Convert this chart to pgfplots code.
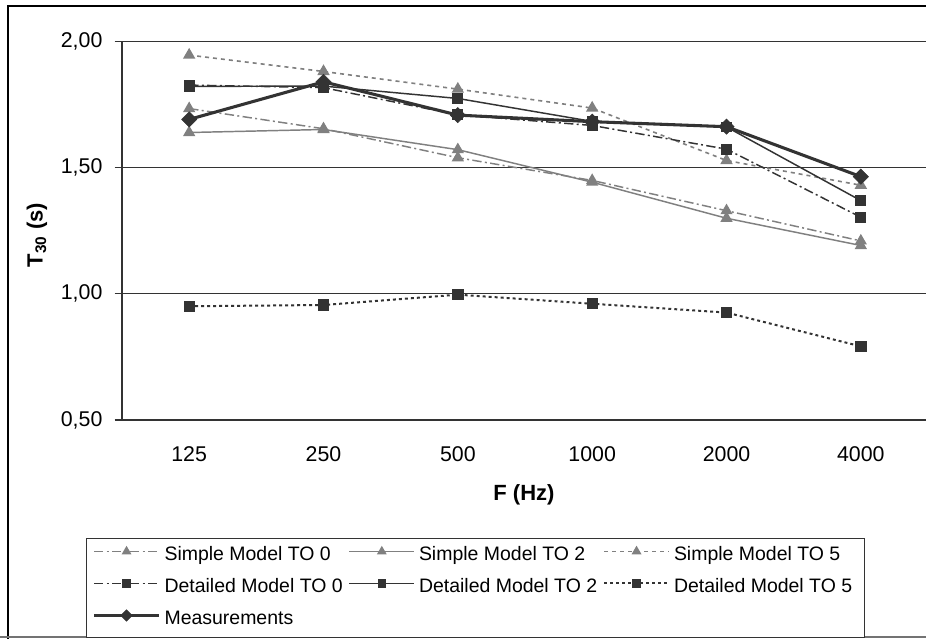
\documentclass[border=0pt]{standalone}
\usepackage{pgfplots}
\pgfplotsset{compat=1.18}
\usepackage{fontspec}
\setmainfont{Liberation Sans}
\usetikzlibrary{plotmarks}
\definecolor{sgray}{HTML}{808080}
\definecolor{dgray}{HTML}{333333}
\begin{document}
\begin{tikzpicture}
\useasboundingbox (0,0) rectangle (694.5pt,479.25pt);
\fill[white] (0,0) rectangle (694.5pt,479.25pt);
% outer frame
\draw[black, line width=1.2pt] (6pt,-5pt) -- (6pt,474.75pt) -- (700pt,474.75pt);
\draw[black!55, line width=1.4pt] (0pt,1.5pt) -- (700pt,1.5pt);
\begin{axis}[
  at={(91.5pt,164.25pt)}, anchor=south west,
  scale only axis, width=603pt, height=283.7pt,
  xmin=-0.5, xmax=5.485, ymin=0.5, ymax=2.0,
  axis lines=left, axis line style={-, draw=black!80, line width=0.8pt},
  xtick={0,1,2,3,4,5},
  xticklabels={125,250,500,1000,2000,4000},
  major x tick style={draw=none},
  extra x ticks={-0.5,0.5,1.5,2.5,3.5,4.5},
  extra x tick labels={},
  extra x tick style={major tick length=5.5pt, tick align=outside, tick style={draw=black!80, line width=0.8pt}},
  ytick={0.5,1,1.5,2},
  ymajorgrids, grid style={draw=black!80, line width=0.75pt},
  tick align=outside, major tick length=5.5pt,
  ytick style={draw=black!80, line width=0.8pt},
  /pgf/number format/.cd, fixed, fixed zerofill, precision=2, use comma, assume math mode=true,
  /pgfplots/.cd,
  tick label style={font=\fontsize{16}{18}\selectfont},
  xticklabel style={anchor=center, yshift=-20pt},
  yticklabel style={anchor=east, inner sep=0pt, xshift=-9pt},
  xlabel={\bfseries F (Hz)},
  ylabel={\bfseries T\textsubscript{30} (s)},
  label style={font=\fontsize{16.5}{18}\selectfont},
  xlabel style={at={(axis description cs:0.5,-0.198)}, anchor=center},
  ylabel style={at={(axis description cs:-0.1057,0.489)}, anchor=center},
  legend columns=3,
  legend style={at={(axis description cs:-0.0448,-0.312)}, anchor=north west,
    draw=black!80, line width=0.75pt, inner xsep=4.5pt, inner ysep=4pt,
    font=\fontsize{14.6}{16}\selectfont, row sep=5.75pt,
    nodes={inner sep=0pt, text height=12.5pt, text depth=5.75pt},
    /tikz/every odd column/.append style={column sep=3pt}},
  legend cell align=left,
  legend image code/.code={\draw[#1, mark repeat=2, mark phase=2, every mark/.append style={scale=0.75}] plot coordinates {(0pt,3.4pt) (24.4pt,3.4pt) (48.75pt,3.4pt)};},
]
\addplot[sgray, line width=1.1pt, dash pattern=on 7pt off 2.5pt on 1.5pt off 2.5pt, mark=triangle*, mark size=4.2pt, mark options={solid, fill=sgray, draw=sgray}]
  coordinates {(0,1.735) (1,1.655) (2,1.540) (3,1.450) (4,1.330) (5,1.210)};
\addlegendentry{\makebox[138pt][l]{Simple Model TO 0}}
\addplot[sgray, line width=1.1pt, mark=triangle*, mark size=4.2pt, mark options={solid, fill=sgray, draw=sgray}]
  coordinates {(0,1.640) (1,1.652) (2,1.572) (3,1.443) (4,1.300) (5,1.192)};
\addlegendentry{\makebox[138pt][l]{Simple Model TO 2}}
\addplot[sgray, line width=1.2pt, dash pattern=on 3pt off 3pt, mark=triangle*, mark size=4.2pt, mark options={solid, fill=sgray, draw=sgray}]
  coordinates {(0,1.947) (1,1.882) (2,1.812) (3,1.737) (4,1.529) (5,1.431)};
\addlegendentry{\makebox[138pt][l]{Simple Model TO 5}}
\addplot[dgray, line width=1.1pt, dash pattern=on 7pt off 2.5pt on 1.5pt off 2.5pt, mark=square*, mark size=3.5pt, mark options={solid, fill=dgray, draw=dgray}]
  coordinates {(0,1.828) (1,1.818) (2,1.710) (3,1.668) (4,1.574) (5,1.304)};
\addlegendentry{\makebox[138pt][l]{Detailed Model TO 0}}
\addplot[dgray, line width=1.1pt, mark=square*, mark size=3.5pt, mark options={solid, fill=dgray, draw=dgray}]
  coordinates {(0,1.823) (1,1.824) (2,1.775) (3,1.684) (4,1.662) (5,1.370)};
\addlegendentry{\makebox[138pt][l]{Detailed Model TO 2}}
\addplot[dgray, line width=1.5pt, dash pattern=on 2.2pt off 2.3pt, mark=square*, mark size=3.5pt, mark options={solid, fill=dgray, draw=dgray}]
  coordinates {(0,0.951) (1,0.956) (2,0.997) (3,0.961) (4,0.926) (5,0.792)};
\addlegendentry{\makebox[138pt][l]{Detailed Model TO 5}}
\addplot[dgray, line width=2.3pt, mark=square*, mark size=4pt, mark options={solid, fill=dgray, draw=dgray, line width=0.5pt, rotate=45}]
  coordinates {(0,1.692) (1,1.841) (2,1.709) (3,1.683) (4,1.663) (5,1.465)};
\addlegendentry{\makebox[138pt][l]{Measurements}}
\end{axis}
\end{tikzpicture}
\end{document}
